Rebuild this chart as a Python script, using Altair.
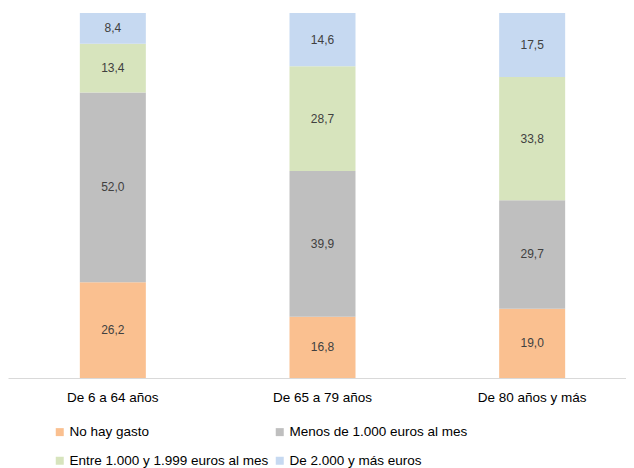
import altair as alt
import pandas as pd

groups = ["De 6 a 64 años", "De 65 a 79 años", "De 80 años y más"]
series = ["No hay gasto", "Menos de 1.000 euros al mes",
          "Entre 1.000 y  1.999 euros al mes", "De 2.000 y más euros"]
colors = ["#FAC090", "#BFBFBF", "#D7E4BD", "#C6D9F1"]
values = {
    "No hay gasto": [26.2, 16.8, 19.0],
    "Menos de 1.000 euros al mes": [52.0, 39.9, 29.7],
    "Entre 1.000 y  1.999 euros al mes": [13.4, 28.7, 33.8],
    "De 2.000 y más euros": [8.4, 14.6, 17.5],
}

rows = []
for si, s in enumerate(series):
    for gi, g in enumerate(groups):
        v = values[s][gi]
        rows.append({"grupo": g, "serie": s, "orden": si, "valor": v,
                     "etiqueta": f"{v:.1f}".replace(".", ",")})
df = pd.DataFrame(rows)

base = alt.Chart(df).transform_stack(
    stack="valor", groupby=["grupo"], as_=["y0", "y1"],
    sort=[alt.SortField("orden", order="ascending")]
).transform_calculate(mid="(datum.y0 + datum.y1) / 2")

xenc = alt.X("grupo:N", sort=groups, title=None,
             scale=alt.Scale(range=[0, 629], paddingInner=0, paddingOuter=0),
             axis=alt.Axis(labelAngle=0, ticks=False, domainColor="#D9D9D9",
                           labelFontSize=13.5, labelColor="#000000",
                           labelFont="Liberation Sans", labelPadding=12,
                           grid=False))

bars = base.mark_bar(size=66).encode(
    x=xenc,
    y=alt.Y("y0:Q", scale=alt.Scale(domain=[0, 100]), axis=None),
    y2="y1:Q",
    color=alt.Color("serie:N", sort=series,
                    scale=alt.Scale(domain=series, range=colors),
                    legend=alt.Legend(title=None, orient="none", columns=2,
                                      direction="horizontal",
                                      legendX=45, legendY=412,
                                      symbolType="square", symbolSize=64,
                                      symbolStrokeWidth=0,
                                      labelFontSize=13.5, labelFont="Liberation Sans",
                                      labelColor="#000000", labelOffset=3,
                                      columnPadding=-6, rowPadding=14,
                                      labelLimit=400)),
)

labels = base.mark_text(fontSize=12, font="Liberation Sans", color="#404040").encode(
    x=alt.X("grupo:N", sort=groups),
    y=alt.Y("mid:Q"),
    text="etiqueta:N",
)

chart = (bars + labels).properties(
    width=618, height=365,
    autosize=alt.AutoSizeParams(type="none"),
    padding={"left": 0, "right": 0, "top": 5, "bottom": 90},
).configure_view(stroke=None)

chart.save("out.html", embed_options={"renderer": "svg", "actions": False})
